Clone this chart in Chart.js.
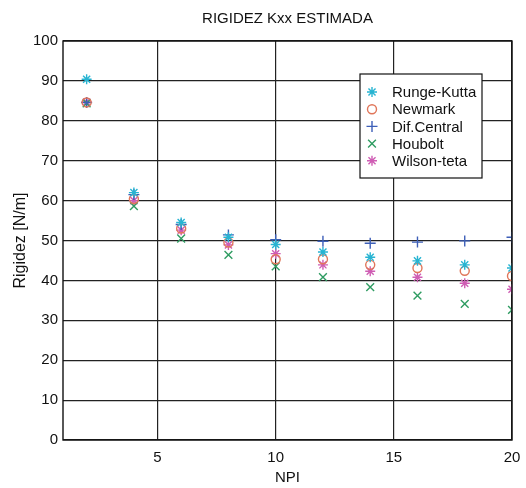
<!DOCTYPE html>
<html>
<head>
<meta charset="utf-8">
<script src="https://cdn.jsdelivr.net/npm/chart.js@4"></script>
<style>
  html, body { margin: 0; padding: 0; background: #ffffff; }
  #wrap { width: 526px; height: 488px; }
</style>
</head>
<body>
<div id="wrap"><canvas id="c" width="526" height="488"></canvas></div>
<script>
// NPI values (number of integration points)
const npi = [2, 4, 6, 8, 10, 12, 14, 16, 18, 20];

// Estimated stiffness Kxx [N/m] for each integration method
const rungeKutta = [90.4, 62.0, 54.5, 50.8, 49.0, 47.1, 45.8, 44.9, 43.9, 43.1];
const newmark    = [84.6, 60.4, 53.0, 49.5, 45.3, 45.3, 43.9, 43.1, 42.4, 41.1];
const difCentral = [84.6, 61.5, 54.0, 51.4, 50.2, 49.8, 49.3, 49.6, 49.9, 50.8];
const houbolt    = [84.4, 58.6, 50.5, 46.4, 43.5, 40.8, 38.3, 36.2, 34.1, 32.6];
const wilsonTeta = [84.7, 60.0, 52.6, 48.9, 46.7, 43.9, 42.3, 40.8, 39.3, 37.8];

const seriesNames = ['Runge-Kutta', 'Newmark', 'Dif.Central', 'Houbolt', 'Wilson-teta'];
const xTicks = [5, 10, 15, 20];
const yTicks = [0, 10, 20, 30, 40, 50, 60, 70, 80, 90, 100];
const chartTitle = 'RIGIDEZ Kxx ESTIMADA';

const seriesValues = [rungeKutta, newmark, difCentral, houbolt, wilsonTeta];
const colors = ['#27b4d2', '#e0765a', '#3d5fb8', '#2f9c62', '#cf5db4'];
const styles = ['star', 'circle', 'cross', 'crossRot', 'star'];
const radii  = [5, 4.5, 5.5, 5.5, 5];

const FONT = 'Liberation Sans, Arial, sans-serif';

const datasets = seriesNames.map((name, i) => ({
  label: name,
  data: npi.map((x, j) => ({ x: x, y: seriesValues[i][j] })),
  showLine: false,
  pointStyle: styles[i],
  pointRadius: radii[i],
  pointBorderWidth: 1.4,
  borderColor: colors[i],
  backgroundColor: 'rgba(0,0,0,0)',
  pointBorderColor: colors[i],
  pointBackgroundColor: 'rgba(0,0,0,0)'
}));

// Box around the plotting area and the title centred above it
const frame = {
  id: 'frame',
  afterDatasetsDraw(chart) {
    const { ctx, chartArea: a } = chart;
    ctx.save();
    ctx.strokeStyle = '#111';
    ctx.lineWidth = 1.4;
    ctx.strokeRect(a.left, a.top, a.right - a.left, a.bottom - a.top);
    ctx.fillStyle = '#111';
    ctx.font = '15px ' + FONT;
    ctx.textAlign = 'center';
    ctx.textBaseline = 'middle';
    ctx.fillText(chartTitle, (a.left + a.right) / 2, a.top - 22);
    ctx.restore();
  }
};

// Boxed legend inside the plot, upper right
const boxLegend = {
  id: 'boxLegend',
  afterDraw(chart) {
    const { ctx, chartArea: a } = chart;
    const x0 = a.left + 297, y0 = a.top + 33, w = 122, h = 104;
    ctx.save();
    ctx.fillStyle = '#ffffff';
    ctx.fillRect(x0, y0, w, h);
    ctx.strokeStyle = '#111';
    ctx.lineWidth = 1.2;
    ctx.strokeRect(x0, y0, w, h);
    ctx.font = '15px ' + FONT;
    ctx.textBaseline = 'middle';
    chart.data.datasets.forEach((ds, i) => {
      const cy = y0 + 18 + i * 17.2;
      ctx.strokeStyle = ds.pointBorderColor;
      ctx.fillStyle = 'rgba(0,0,0,0)';
      ctx.lineWidth = 1.4;
      Chart.helpers.drawPoint(ctx, {
        pointStyle: ds.pointStyle, radius: ds.pointRadius, borderWidth: 1.4, rotation: 0
      }, x0 + 12, cy);
      ctx.fillStyle = '#111';
      ctx.fillText(ds.label, x0 + 32, cy + 1);
    });
    ctx.restore();
  }
};

new Chart(document.getElementById('c'), {
  type: 'scatter',
  data: { datasets: datasets },
  plugins: [frame, boxLegend],
  options: {
    responsive: false,
    animation: false,
    events: [],
    layout: { padding: { left: 0, right: 14, top: 41, bottom: 0 } },
    plugins: {
      legend: { display: false },
      tooltip: { enabled: false },
      title: { display: false }
    },
    scales: {
      x: {
        type: 'linear',
        min: 1,
        max: 20,
        afterBuildTicks(scale) { scale.ticks = xTicks.map(v => ({ value: v })); },
        afterFit(scale) {
          scale.height = 48;
          scale.paddingLeft = 0;
          scale.paddingRight = 0;
        },
        border: { display: false },
        grid: { color: '#222', lineWidth: 1.2, drawTicks: false },
        ticks: {
          color: '#111',
          padding: 9,
          font: { family: FONT, size: 15 },
          maxRotation: 0
        },
        title: {
          display: true,
          text: 'NPI',
          color: '#111',
          font: { family: FONT, size: 15 },
          padding: { top: 0, bottom: 1 }
        }
      },
      y: {
        type: 'linear',
        min: 0,
        max: 100,
        afterBuildTicks(scale) { scale.ticks = yTicks.map(v => ({ value: v })); },
        afterFit(scale) { scale.width = 63; },
        border: { display: false },
        grid: { color: '#222', lineWidth: 1.2, drawTicks: false },
        ticks: {
          color: '#111',
          padding: 5,
          font: { family: FONT, size: 15 }
        },
        title: {
          display: true,
          text: 'Rigidez [N/m]',
          color: '#111',
          font: { family: FONT, size: 16 },
          padding: { top: 11, bottom: 0 }
        }
      }
    }
  }
});
</script>
</body>
</html>
